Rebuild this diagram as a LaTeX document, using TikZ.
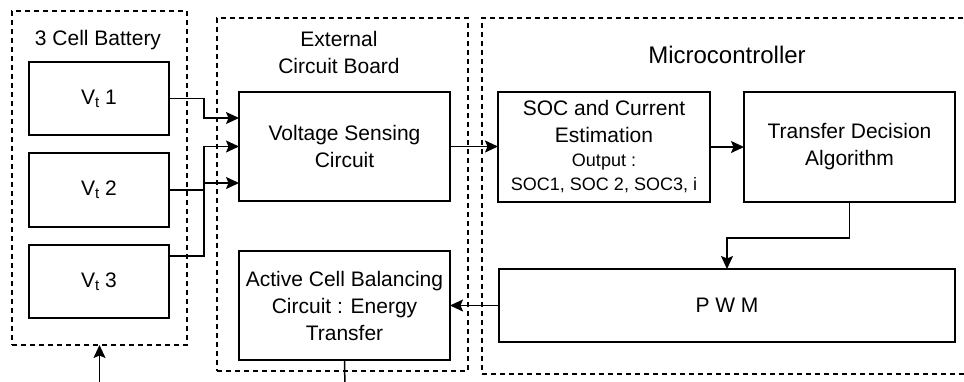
\documentclass[tikz,border=0pt]{standalone}
\usepackage{fontspec}
\setmainfont{Liberation Sans}
\usetikzlibrary{arrows.meta,calc}
\begin{document}
\begin{tikzpicture}[x=1pt,y=-1pt,
  box/.style={draw=black,line width=1.4pt,anchor=north west,inner sep=0pt,outer sep=0pt,align=center,font=\fontsize{21}{27}\selectfont},
  grp/.style={draw=black,line width=1.2pt,dash pattern=on 5pt off 4pt,anchor=north west,inner sep=0pt,outer sep=0pt},
  lbl/.style={align=center,font=\fontsize{21}{27}\selectfont,inner sep=0pt},
  wire/.style={draw=black,line width=1.5pt},
  conn/.style={draw=black,line width=1.5pt,-{Stealth[length=13pt,width=12pt,inset=2.5pt]}}
]
\useasboundingbox (0,0) rectangle (964,381);
\clip (0,0) rectangle (964,381);

% groups
\node[grp,minimum width=175pt,minimum height=334pt] (bat) at (12,11) {};
\node[grp,minimum width=251pt,minimum height=353pt] (ext) at (217,18) {};
\node[grp,minimum width=490pt,minimum height=356pt] (mcu) at (482,18) {};

% group titles
\node[lbl] (battitle) at (98,40) {3 Cell Battery};
\node[lbl] (exttitle) at (339,52) {External\\Circuit Board};
\node[lbl,font=\fontsize{24}{28}\selectfont] (mcutitle) at (727,55) {Microcontroller};

% cells
\node[box,minimum width=140pt,minimum height=73pt] (v1) at (29,62) {V\raisebox{-0.3ex}{\fontsize{15}{15}\selectfont t} 1};
\node[box,minimum width=140pt,minimum height=74pt] (v2) at (29,153) {V\raisebox{-0.3ex}{\fontsize{15}{15}\selectfont t} 2};
\node[box,minimum width=140pt,minimum height=73pt] (v3) at (29,245) {V\raisebox{-0.3ex}{\fontsize{15}{15}\selectfont t} 3};

% external board
\node[box,minimum width=211pt,minimum height=109pt] (vs) at (239,92) {Voltage Sensing\\Circuit};
\node[box,minimum width=211pt,minimum height=109pt] (acb) at (239,251) {Active Cell Balancing\\Circuit : Energy\\Transfer};

% microcontroller
\node[box,minimum width=212pt,minimum height=110pt] (soc) at (498,92)
  {SOC and Current\\Estimation\\[-3pt]{\fontsize{18}{25}\selectfont Output :}\\[-3pt]{\fontsize{18}{25}\selectfont SOC1, SOC 2, SOC3, i}};
\node[box,minimum width=211pt,minimum height=110pt] (tda) at (744,92) {Transfer Decision\\Algorithm};
\node[box,minimum width=456pt,minimum height=73pt] (pwm) at (499,269) {P W M};

% free ends
\coordinate (batin) at (99.5,390);
\coordinate (acbout) at (345,390);

% connectors
\draw[conn] (v1.east) -- ++(35,0) |- ($(vs.west)+(0,-28.5)$);
\draw[conn] ($(v3.north east)+(0,11)$) -- ++(35,0) |- ($(vs.west)+(0,0)$);
\draw[conn] (v2.east) -- ++(35,0) |- ($(vs.west)+(0,36.5)$);
\draw[conn] (vs.east) -- (vs.east -| soc.west);
\draw[conn] (soc.east |- tda.west) -- (tda.west);
\draw[conn] (tda.south) -- ++(0,36) -| (pwm.north);
\draw[conn] (pwm.west) -- (pwm.west -| acb.east);
\draw[wire] (acb.south) -- (acbout);
\draw[conn] (batin) -- (bat.south);
\end{tikzpicture}
\end{document}
